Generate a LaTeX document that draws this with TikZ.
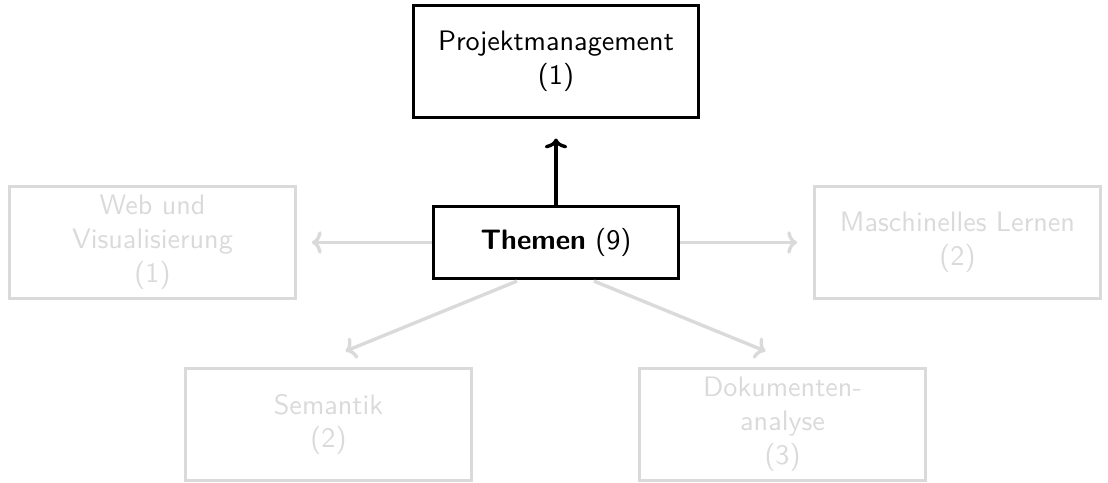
\documentclass[tikz,border=0pt]{standalone}
\usetikzlibrary{arrows.meta,calc}
\definecolor{faded}{RGB}{218,218,218}
\begin{document}
\begin{tikzpicture}[x=0.355pt,y=-0.355pt,
  font=\sffamily,
  box/.style={draw,rectangle,align=center,inner sep=0pt,
    minimum width=101.4pt,minimum height=39.6pt},
  active/.style={box,draw=black,line width=1.1pt,text=black},
  inactive/.style={box,draw=faded,line width=1.1pt,text=faded},
  link/.style={line width=1.2pt,-{To[length=3.5pt,width=8pt]}},
  fadedlink/.style={link,draw=faded}]
\useasboundingbox (0,0) rectangle (1108,483);

\node[active] (pm) at (556,61.5) {Projektmanagement\\(1)};
\node[active,minimum width=87pt,minimum height=25.6pt] (them) at (556,242.5)
  {\textbf{Themen} (9)};
\node[inactive] (web) at (152.5,242.5) {Web und\\Visualisierung\\(1)};
\node[inactive] (ml) at (957.5,242.5) {Maschinelles Lernen\\(2)};
\node[inactive] (sem) at (328.5,424.5) {Semantik\\(2)};
\node[inactive] (doc) at (782.5,424.5) {Dokumenten-\\analyse\\(3)};

\draw[link,shorten >=7pt] (them.north) -- (pm.south);
\draw[fadedlink,shorten >=5.3pt] (them.west) -- (them.west -| web.east);
\draw[fadedlink,shorten >=5.7pt] (them.east) -- (them.east -| ml.west);
\draw[fadedlink] ($(them.south)+(-39,1)$) -- ($(sem.north)+(17,-16)$);
\draw[fadedlink] ($(them.south)+(38,1)$) -- ($(doc.north)+(-17,-16)$);
\end{tikzpicture}
\end{document}
